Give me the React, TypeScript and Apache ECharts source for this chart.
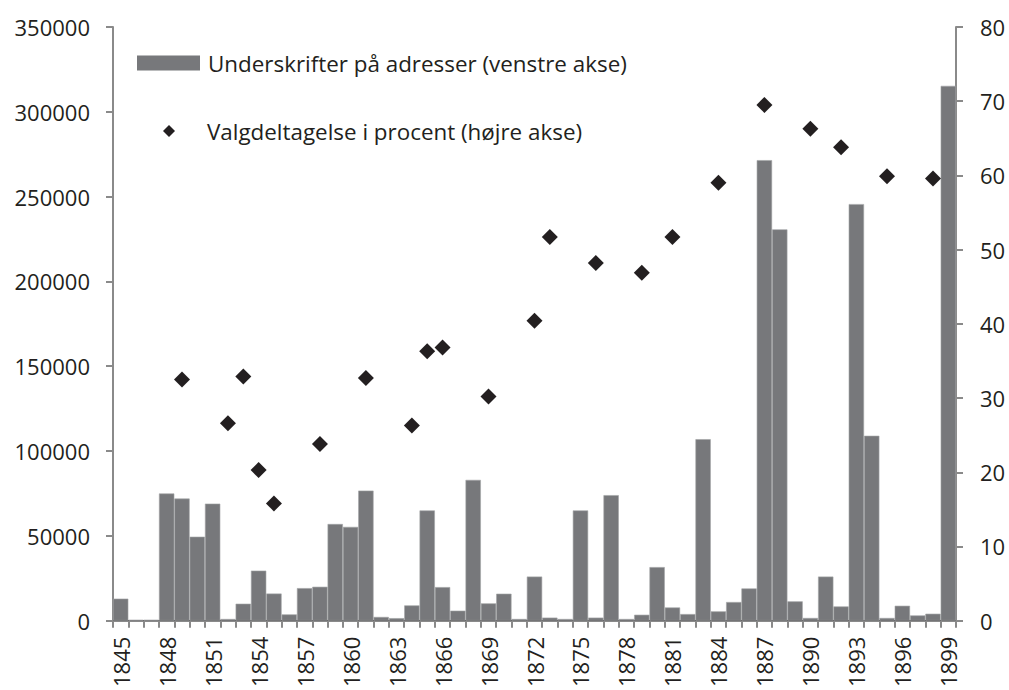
import React, { useEffect, useRef } from "react";
import * as echarts from "echarts";

const years = [
  "1845", "1846", "1847", "1848", "1849", "1850", "1851", "1852", "1853", "1854",
  "1855", "1856", "1857", "1858", "1859", "1860", "1861", "1862", "1863", "1864",
  "1865", "1866", "1867", "1868", "1869", "1870", "1871", "1872", "1873", "1874",
  "1875", "1876", "1877", "1878", "1879", "1880", "1881", "1882", "1883", "1884",
  "1885", "1886", "1887", "1888", "1889", "1890", "1891", "1892", "1893", "1894",
  "1895", "1896", "1897", "1898", "1899",
];

const signatures = [
  13000, 500, 500, 75000, 72000, 49500, 69000, 1000, 10000, 29500,
  16000, 3700, 19200, 20000, 57000, 55300, 76700, 2200, 1500, 9000,
  65000, 19800, 5900, 83000, 10200, 15900, 1000, 26000, 1800, 1000,
  65000, 1800, 74000, 1000, 3500, 31600, 7800, 3900, 107000, 5500,
  11000, 19000, 271500, 230700, 11400, 1600, 26000, 8400, 245600, 109000,
  1600, 8800, 3100, 4100, 315300,
];

const turnoutYears = [
  "1849", "1852", "1853", "1854", "1855", "1858", "1861", "1864", "1865", "1866",
  "1869", "1872", "1873", "1876", "1879", "1881", "1884", "1887", "1890", "1892",
  "1895", "1898",
];
const turnoutValues = [
  32.5, 26.6, 32.9, 20.3, 15.8, 23.8, 32.7, 26.3, 36.3, 36.8,
  30.2, 40.4, 51.7, 48.2, 46.9, 51.7, 59.0, 69.5, 66.3, 63.8,
  59.9, 59.6,
];

const leftTicks = { min: 0, max: 350000, interval: 50000 };
const rightTicks = { min: 0, max: 80, interval: 10 };

const barName = "Underskrifter på adresser (venstre akse)";
const dotName = "Valgdeltagelse i procent (højre akse)";

const FONT = "'Open Sans', 'Noto Sans', sans-serif";
const AXIS_GRAY = "#8a8a8a";
const TEXT = "#231f20";

export default function App() {
  const ref = useRef<HTMLDivElement>(null);

  useEffect(() => {
    if (!ref.current) return;
    const chart = echarts.init(ref.current, undefined, { renderer: "svg" });
    chart.setOption({
      animation: false,
      backgroundColor: "#ffffff",
      textStyle: { fontFamily: FONT },
      grid: { left: 113, right: 53, top: 27, bottom: 67, containLabel: false },
      legend: [
        {
          data: [barName],
          left: 132,
          top: 47,
          itemWidth: 63,
          itemHeight: 15,
          icon: "rect",
          selectedMode: false,
          itemStyle: { color: "#77787b", borderWidth: 0 },
          textStyle: { fontFamily: FONT, fontSize: 22.4, color: TEXT, padding: [0, 0, 0, 3] },
        },
        {
          data: [dotName],
          left: 158,
          top: 115,
          itemWidth: 12,
          itemHeight: 12,
          icon: "diamond",
          selectedMode: false,
          itemStyle: { color: "#231f20", opacity: 1 },
          textStyle: { fontFamily: FONT, fontSize: 22.4, color: TEXT, padding: [0, 0, 0, 27] },
        },
      ],
      xAxis: [
        {
          type: "category",
          data: years,
          boundaryGap: true,
          axisLine: { show: true, lineStyle: { color: AXIS_GRAY, width: 2 } },
          axisTick: { show: true, interval: 0, length: 7, lineStyle: { color: AXIS_GRAY, width: 2 } },
          axisLabel: {
            interval: 2,
            rotate: 90,
            margin: 16,
            fontFamily: FONT,
            fontSize: 22,
            color: TEXT,
          },
          splitLine: { show: false },
        },
        {
          type: "category",
          data: years,
          position: "top",
          axisLine: { show: true, lineStyle: { color: "#231f20", width: 1 } },
          axisTick: { show: false },
          axisLabel: { show: false },
          splitLine: { show: false },
        },
      ],
      yAxis: [
        {
          type: "value",
          position: "left",
          min: leftTicks.min,
          max: leftTicks.max,
          interval: leftTicks.interval,
          axisLine: { show: true, lineStyle: { color: AXIS_GRAY, width: 2 } },
          axisTick: { show: true, length: 7, lineStyle: { color: AXIS_GRAY, width: 2 } },
          axisLabel: {
            margin: 23,
            fontFamily: FONT,
            fontSize: 22,
            color: TEXT,
            formatter: (v: number) => String(v),
          },
          splitLine: { show: false },
        },
        {
          type: "value",
          position: "right",
          min: rightTicks.min,
          max: rightTicks.max,
          interval: rightTicks.interval,
          axisLine: { show: true, lineStyle: { color: AXIS_GRAY, width: 2 } },
          axisTick: { show: true, length: 7, lineStyle: { color: AXIS_GRAY, width: 2 } },
          axisLabel: {
            margin: 24,
            fontFamily: FONT,
            fontSize: 22,
            color: TEXT,
            formatter: (v: number) => String(v),
          },
          splitLine: { show: false },
        },
      ],
      series: [
        {
          name: barName,
          type: "bar",
          xAxisIndex: 0,
          yAxisIndex: 0,
          data: signatures,
          barCategoryGap: "0%",
          itemStyle: { color: "#77787b", borderColor: "#a3a4a6", borderWidth: 0.6 },
        },
        {
          name: dotName,
          type: "scatter",
          xAxisIndex: 0,
          yAxisIndex: 1,
          symbol: "diamond",
          symbolSize: 16,
          data: turnoutYears.map((y, i) => [y, turnoutValues[i]]),
          itemStyle: { color: "#231f20", opacity: 1 },
        },
      ],
    });
    return () => chart.dispose();
  }, []);

  return (
    <div
      ref={ref}
      style={{ position: "fixed", left: 0, top: 0, width: 1009, height: 690 }}
    />
  );
}
